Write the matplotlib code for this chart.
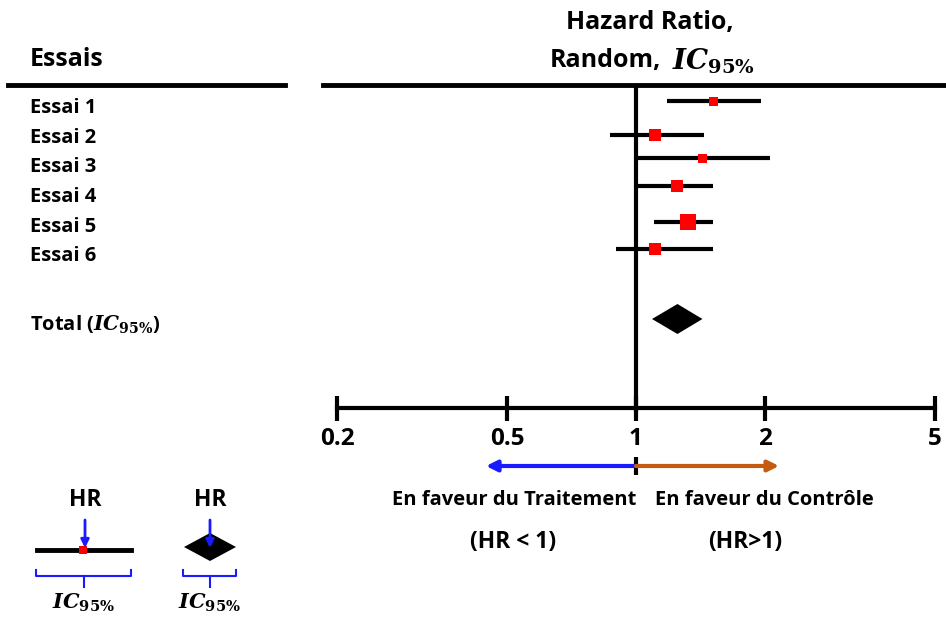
import matplotlib.pyplot as plt
import numpy as np

plt.rcParams['font.family'] = ['Open Sans', 'DejaVu Sans']
plt.rcParams['font.weight'] = 'bold'
plt.rcParams['mathtext.fontset'] = 'custom'
plt.rcParams['mathtext.it'] = 'DejaVu Serif:italic:bold'
plt.rcParams['mathtext.rm'] = 'DejaVu Serif:bold'

# donnees
essais = ['Essai 1', 'Essai 2', 'Essai 3', 'Essai 4', 'Essai 5', 'Essai 6']
hr = [1.51, 1.11, 1.43, 1.25, 1.32, 1.11]
ic_bas = [1.18, 0.87, 1.00, 1.00, 1.10, 0.90]
ic_haut = [1.96, 1.44, 2.06, 1.51, 1.51, 1.51]
poids = [9, 12, 9, 12, 16, 12]
total_hr, total_bas, total_haut = 1.25, 1.09, 1.43
graduations = [0.2, 0.5, 1, 2, 5]
graduations_txt = ['0.2', '0.5', '1', '2', '5']

W, H = 946, 619
fig = plt.figure(figsize=(W / 100, H / 100), dpi=100)

# fond en pixels pour le texte et le mini-legende
ax0 = fig.add_axes([0, 0, 1, 1])
ax0.set_xlim(0, W)
ax0.set_ylim(H, 0)
ax0.axis('off')

# axe du forest plot (echelle log)
x0, x1 = 337, 935
ax = fig.add_axes([x0 / W, 0, (x1 - x0) / W, 1])
ax.patch.set_alpha(0)
ax.set_xscale('log')
ax.set_xlim(0.2, 5)
ax.set_ylim(H, 0)
for s in ['top', 'left', 'right']:
    ax.spines[s].set_visible(False)
ax.spines['bottom'].set_position(('data', 408))
ax.spines['bottom'].set_linewidth(3)
ax.set_xticks(graduations)
ax.set_xticklabels(graduations_txt, fontsize=17.5, fontweight='bold')
ax.xaxis.set_minor_locator(plt.NullLocator())
ax.tick_params(axis='x', direction='inout', length=18, width=3, pad=5)
ax.set_yticks([])

fs = 14.5
fs2 = 16.5

# lignes d'en-tete
ax0.plot([8, 285], [85, 85], color='k', lw=3.5)
ax0.plot([323, W], [85, 85], color='k', lw=3.5)
ax0.text(30, 60, 'Essais', fontsize=18, fontweight='bold', va='center')
ax0.text(650, 22, 'Hazard Ratio,', fontsize=18, fontweight='bold', ha='center', va='center')
ax0.text(605, 60, 'Random,', fontsize=18, fontweight='bold', ha='center', va='center')
ax0.text(713, 62, r'$IC_{95\%}$', fontsize=20, ha='center', va='center')

# ligne verticale a HR = 1
ax.vlines(1, 85, 412, color='k', lw=3)

y_lignes = [101, 135, 158, 186, 222, 249]
y_textes = [108, 138, 167, 197, 227, 256]
for i in range(len(essais)):
    ax0.text(30, y_textes[i], essais[i], fontsize=fs, fontweight='bold', va='center')
    ax.plot([ic_bas[i], ic_haut[i]], [y_lignes[i], y_lignes[i]], color='k', lw=3, solid_capstyle='butt')
    ax.plot(hr[i], y_lignes[i], marker='s', color='red', markersize=poids[i] * 0.72, markeredgewidth=0)

# total
ax0.text(30, 325, r'Total ($IC_{95\%}$)', fontsize=fs, fontweight='bold', va='center')
yt = 319
ax.fill([total_bas, total_hr, total_haut, total_hr], [yt, yt - 15, yt, yt + 15], color='k', lw=0)

# fleches sous l'axe
ya = 466
ax.annotate('', xy=(0.446, ya), xytext=(1, ya),
            arrowprops=dict(arrowstyle='-|>', color='#1a1aff', lw=3, mutation_scale=16, shrinkA=0, shrinkB=0))
ax.annotate('', xy=(2.16, ya), xytext=(1, ya),
            arrowprops=dict(arrowstyle='-|>', color='#c55a11', lw=3, mutation_scale=16, shrinkA=0, shrinkB=0))
ax.vlines(1, 457, 475, color='k', lw=3)
ax0.text(514, 500, 'En faveur du Traitement', fontsize=fs, fontweight='bold', ha='center', va='center')
ax0.text(764, 500, 'En faveur du Contrôle', fontsize=fs, fontweight='bold', ha='center', va='center')
ax0.text(513, 542, '(HR < 1)', fontsize=fs2, fontweight='bold', ha='center', va='center')
ax0.text(745, 542, '(HR>1)', fontsize=fs2, fontweight='bold', ha='center', va='center')

# mini legende
bleu = '#1a1aff'
ax0.text(85, 500, 'HR', fontsize=fs2, fontweight='bold', ha='center', va='center')
ax0.text(210, 500, 'HR', fontsize=fs2, fontweight='bold', ha='center', va='center')
ax0.plot([37, 131], [550, 550], color='k', lw=3.5)
ax0.plot(83, 550, marker='s', color='red', markersize=6, markeredgewidth=0)
ax0.fill([184, 210, 236, 210], [547, 533, 547, 561], color='k', lw=0)
for xa in [85, 210]:
    ax0.annotate('', xy=(xa, 548), xytext=(xa, 520),
                 arrowprops=dict(arrowstyle='-|>', color=bleu, lw=2, mutation_scale=12, shrinkA=0, shrinkB=0))
for xa, xb in [(36, 131), (183, 236)]:
    xm = (xa + xb) / 2
    ax0.plot([xa, xa, xb, xb], [570, 576, 576, 570], color=bleu, lw=1.5)
    ax0.plot([xm, xm], [576, 587], color=bleu, lw=1.5)
    ax0.text(xm, 603, r'$IC_{95\%}$', fontsize=15, ha='center', va='center')

fig.savefig('out.png', dpi=100)
